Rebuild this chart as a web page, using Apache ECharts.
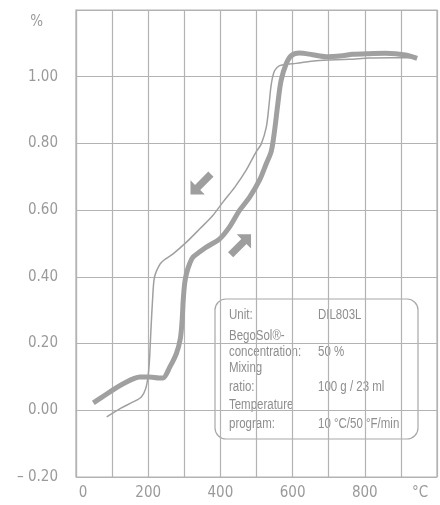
<!DOCTYPE html>
<html>
<head>
<meta charset="utf-8">
<script src="https://cdn.jsdelivr.net/npm/echarts@6/dist/echarts.min.js"></script>
<style>
html,body{margin:0;padding:0;background:#fff;}
#chart{width:440px;height:505px;}
</style>
</head>
<body>
<div id="chart"></div>
<script>
// ---- data ----
var heatX = [48, 70, 94, 118, 140, 160, 177, 204, 230, 241, 260, 278, 289, 294, 297, 301, 306, 315, 324, 343, 361, 398, 425, 453, 481, 508, 527, 541, 550, 559, 568, 582, 596, 619, 655, 692, 738, 766, 810, 858, 913, 945];
var heatY = [0.022, 0.038, 0.055, 0.072, 0.085, 0.095, 0.1, 0.1, 0.097, 0.097, 0.13, 0.17, 0.215, 0.27, 0.33, 0.38, 0.41, 0.44, 0.459, 0.475, 0.489, 0.514, 0.549, 0.599, 0.639, 0.689, 0.739, 0.777, 0.838, 0.918, 0.988, 1.038, 1.063, 1.071, 1.066, 1.06, 1.063, 1.067, 1.069, 1.07, 1.065, 1.055];
var coolX = [85, 122, 158, 181, 193, 200, 204, 208, 212, 216, 222, 237, 269, 306, 343, 379, 407, 440, 471, 499, 513, 527, 534, 541, 550, 564, 586, 609, 665, 757, 812, 870, 935];
var coolY = [-0.02, 0.005, 0.025, 0.04, 0.065, 0.105, 0.16, 0.25, 0.33, 0.39, 0.415, 0.444, 0.469, 0.504, 0.544, 0.584, 0.624, 0.669, 0.719, 0.775, 0.798, 0.848, 0.908, 0.978, 1.018, 1.033, 1.038, 1.04, 1.048, 1.052, 1.056, 1.057, 1.057];
var xTickValues = [0, 200, 400, 600, 800, 1000];
var xTickLabels = ['0', '200', '400', '600', '800', '°C'];
var yTickValues = [-0.2, 0, 0.2, 0.4, 0.6, 0.8, 1.0, 1.2];
var yTickLabels = ['– 0.20', '0.00', '0.20', '0.40', '0.60', '0.80', '1.00', '%'];
var arrowHeat = [453, 0.493];
var arrowCool = [349, 0.681];
var infoLabels = [['Unit:'], ['BegoSol®-', 'concentration:'], ['Mixing', 'ratio:'], ['Temperature', 'program:']];
var infoValues = ['DIL803L', '50 %', '100 g / 23 ml', '10 °C/50 °F/min'];

function zip(xs, ys) { return xs.map(function (x, i) { return [x, ys[i]]; }); }

// ---- pick a narrow font that is really installed ----
var ctx = document.createElement('canvas').getContext('2d');
function w(font) { ctx.font = font; return ctx.measureText('concentration: 1.00 200').width; }
var FONT, AXIS_SIZE, NARROW = false;
var wLSN = w('40px "Liberation Sans Narrow", monospace');
var wLS = w('40px "Liberation Sans", monospace');
var wDSC = w('40px "DejaVu Sans Condensed", monospace');
var wDS = w('40px "DejaVu Sans", monospace');
if (wLSN < wLS * 0.9) { FONT = '"Liberation Sans Narrow"'; AXIS_SIZE = 17; NARROW = true; }
else if (wDSC < wDS * 0.95) { FONT = '"DejaVu Sans Condensed"'; AXIS_SIZE = 15; }
else { FONT = '"Liberation Sans"'; AXIS_SIZE = 15.5; }
var BOX_FONT = NARROW ? '14px "Liberation Sans Narrow"' : '14px "Liberation Sans"';
var BOX_SCALE = NARROW ? 1 : 0.82;

var TXT = '#9a9a9a';
var BOX_TXT = '#8e8e8e';
var GRID = '#b3b3b3';
var LINE = '#a0a0a0';

var arrowPath = 'path://M4.273,0L11.273,0L11.273,7L9.046,4.773L2.546,11.273L0,8.727L6.5,2.227Z';

// info box graphic
var infoChildren = [{
  type: 'rect',
  shape: { x: 215, y: 299, width: 203, height: 140, r: 11 },
  style: { fill: '#fff', stroke: '#a8a8a8', lineWidth: 1.2 }
}];
var rowY = [[315], [336, 352], [368, 387], [405.5, 424]];
function boxText(x, y, s) {
  return {
    type: 'text', x: x, y: y, scaleX: BOX_SCALE, scaleY: 1,
    style: { x: 0, y: 0, text: s, fill: BOX_TXT, font: BOX_FONT, verticalAlign: 'middle', align: 'left' }
  };
}
for (var i = 0; i < infoLabels.length; i++) {
  for (var j = 0; j < infoLabels[i].length; j++) {
    infoChildren.push(boxText(229, rowY[i][j], infoLabels[i][j]));
  }
  infoChildren.push(boxText(318, rowY[i][rowY[i].length - 1], infoValues[i]));
}

function labelFor(values, labels, v) {
  for (var k = 0; k < values.length; k++) {
    if (Math.abs(values[k] - v) < 1e-6) return labels[k];
  }
  return '';
}

var chart = echarts.init(document.getElementById('chart'), null, { renderer: 'canvas' });
chart.setOption({
  animation: false,
  backgroundColor: '#fff',
  grid: { left: 76, right: 3, top: 10, bottom: 28, show: true, borderColor: GRID, borderWidth: 1.2, backgroundColor: 'transparent' },
  xAxis: {
    type: 'value', min: 0, max: 1000, interval: 100,
    axisLine: { show: true, lineStyle: { color: GRID, width: 1.2 } },
    axisTick: { show: false },
    splitLine: { show: true, lineStyle: { color: GRID, width: 1.2 } },
    axisLabel: {
      color: TXT, fontFamily: FONT, fontSize: AXIS_SIZE, margin: 9,
      showMinLabel: true, showMaxLabel: true,
      formatter: function (v) {
        var s = labelFor(xTickValues, xTickLabels, v);
        if (s === '') return '';
        if (v === 0) return '{l|' + s + '}';
        if (v === 1000) return '{r|' + s + '}';
        return s;
      },
      rich: {
        l: { color: TXT, fontFamily: FONT, fontSize: AXIS_SIZE, padding: [0, 0, 0, 14] },
        r: { color: TXT, fontFamily: FONT, fontSize: AXIS_SIZE, padding: [0, 34, 0, 0] }
      }
    }
  },
  yAxis: {
    type: 'value', min: -0.2, max: 1.2, interval: 0.2,
    axisLine: { show: true, lineStyle: { color: GRID, width: 1.2 } },
    axisTick: { show: false },
    splitLine: { show: true, lineStyle: { color: GRID, width: 1.2 } },
    axisLabel: {
      color: TXT, fontFamily: FONT, fontSize: AXIS_SIZE, margin: 18,
      showMinLabel: true, showMaxLabel: true,
      formatter: function (v) {
        var s = labelFor(yTickValues, yTickLabels, v);
        if (Math.abs(v - 1.2) < 1e-6) return '{p|' + s + '}';
        return s;
      },
      rich: {
        p: { color: TXT, fontFamily: FONT, fontSize: AXIS_SIZE, padding: [24, 15, 0, 0] }
      }
    }
  },
  series: [
    {
      name: 'cooling', type: 'line', data: zip(coolX, coolY), showSymbol: false, symbol: 'none',
      smooth: 0.3, lineStyle: { color: LINE, width: 1.5 }, z: 3
    },
    {
      name: 'heating', type: 'line', data: zip(heatX, heatY), showSymbol: false, symbol: 'none',
      smooth: 0.3, lineStyle: { color: LINE, width: 5 }, z: 4,
      markPoint: {
        symbol: arrowPath, symbolSize: 23, symbolKeepAspect: true,
        itemStyle: { color: '#9e9e9e' }, label: { show: false },
        data: [
          { coord: arrowHeat, symbolRotate: 0 },
          { coord: arrowCool, symbolRotate: 180 }
        ]
      }
    }
  ],
  graphic: [{ type: 'group', z: 100, children: infoChildren }]
});
</script>
</body>
</html>
